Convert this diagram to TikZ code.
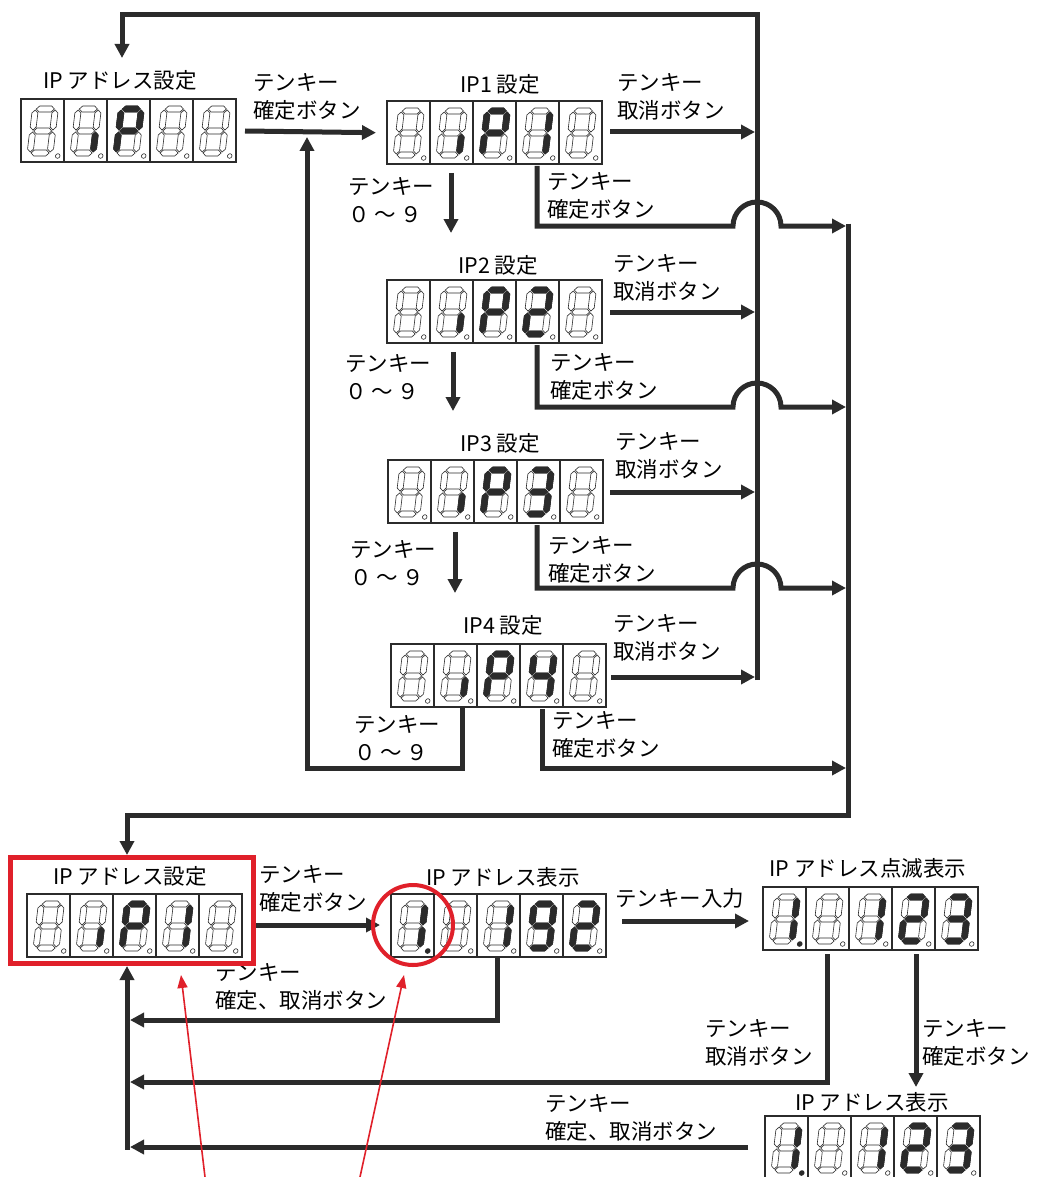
\documentclass[tikz,border=0pt]{standalone}
\usepackage{fontspec}
\setmainfont{Noto Sans CJK JP}
\usetikzlibrary{arrows.meta}
\definecolor{lk}{HTML}{2B2B2B}
\definecolor{rd}{HTML}{E0202A}
\newcommand\hsg[2]{(#1-9,#2) -- ++(3,3) -- ++(12,0) -- ++(3,-3) -- ++(-3,-3) -- ++(-12,0) -- cycle}
\newcommand\vsg[2]{(#1,#2-10) -- ++(3,3) -- ++(0,14) -- ++(-3,3) -- ++(-3,-3) -- ++(0,-14) -- cycle}
\def\dgparse#1#2#3#4#5#6#7#8{\def\sA{#1}\def\sB{#2}\def\sC{#3}\def\sD{#4}\def\sE{#5}\def\sF{#6}\def\sG{#7}\def\sH{#8}}
\newcommand\segdig[3]{%
\begin{scope}[shift={(#1,#2)},xslant=0.12,yscale=-1]
\expandafter\dgparse#3%
\path[segoff] \hsg{18}{53} \hsg{18}{31} \hsg{18}{9} \vsg{8}{42} \vsg{28}{42} \vsg{8}{20} \vsg{28}{20};
\ifnum\sA=1 \path[segon] \hsg{18}{53};\fi
\ifnum\sB=1 \path[segon] \vsg{28}{42};\fi
\ifnum\sC=1 \path[segon] \vsg{28}{20};\fi
\ifnum\sD=1 \path[segon] \hsg{18}{9};\fi
\ifnum\sE=1 \path[segon] \vsg{8}{20};\fi
\ifnum\sF=1 \path[segon] \vsg{8}{42};\fi
\ifnum\sG=1 \path[segon] \hsg{18}{31};\fi
\ifnum\sH=1 \fill[lk] (36,6) circle (2.8);\else \draw[line width=0.6pt,lk] (36,6) circle (2.3);\fi
\end{scope}}
\newcommand\disp[8]{%
\node[minimum width=215pt,minimum height=63pt,inner sep=0pt,anchor=north west] (#1) at (#2,#3) {};
\draw[line width=1.8pt,lk] (#2,#3) rectangle ++(215,63);
\foreach \k in {1,2,3,4} {\draw[line width=1.2pt,lk] ({#2+43*\k},#3) -- ++(0,63);}
\segdig{#2}{#3+63}{#4}\segdig{#2+43}{#3+63}{#5}\segdig{#2+86}{#3+63}{#6}\segdig{#2+129}{#3+63}{#7}\segdig{#2+172}{#3+63}{#8}}
\def\Bl{00000000}\def\Cc{00100000}\def\Pp{11001110}\def\One{01100000}\def\Two{11011010}
\def\Thr{11110010}\def\Fou{01100110}\def\OneD{01100001}\def\Nin{11110110}
\tikzset{
 segoff/.style={draw=lk,line width=0.6pt,fill=white},
 segon/.style={draw=lk,line width=0.6pt,fill=lk},
 ln/.style={draw=lk,line width=5pt},
 conn/.style={draw=lk,line width=5pt,-{Triangle[length=14pt,width=14pt]}},
 redarr/.style={draw=rd,line width=1.6pt,-{Triangle[length=13pt,width=10pt]}},
 lbl/.style={inner sep=0pt,align=left,anchor=west,font=\fontsize{21.5}{27.5}\selectfont},
 ttl/.style={inner sep=0pt,anchor=center,font=\fontsize{21.5}{27.5}\selectfont},
}
\begin{document}
\begin{tikzpicture}[x=1pt,y=-1pt]
\useasboundingbox[fill=white] (0,0) rectangle (1037,1177);
% ---------- displays ----------
\disp{D0}{21}{99}{\Bl}{\Cc}{\Pp}{\Bl}{\Bl}
\disp{D1}{387}{101}{\Bl}{\Cc}{\Pp}{\One}{\Bl}
\disp{D2}{387}{280}{\Bl}{\Cc}{\Pp}{\Two}{\Bl}
\disp{D3}{388}{460}{\Bl}{\Cc}{\Pp}{\Thr}{\Bl}
\disp{D4}{391}{644}{\Bl}{\Cc}{\Pp}{\Fou}{\Bl}
\disp{D5}{27}{894}{\Bl}{\Cc}{\Pp}{\One}{\Bl}
\disp{D6}{391}{894}{\OneD}{\Bl}{\One}{\Nin}{\Two}
\disp{D7}{763}{887}{\OneD}{\Bl}{\One}{\Two}{\Thr}
\disp{D8}{765}{1116}{\OneD}{\Bl}{\One}{\Two}{\Thr}
% ---------- labels ----------
\node[ttl] (t0) at (120,80) {IP アドレス設定};
\node[lbl] (l1) at (253,97) {テンキー\\確定ボタン};
\node[ttl] (t1) at (500,84) {IP1 設定};
\node[lbl] (c1) at (617,97) {テンキー\\取消ボタン};
\node[lbl] (k1) at (547,196) {テンキー\\確定ボタン};
\node[lbl] (n1) at (348,200) {テンキー\\０ ～ ９};
\node[ttl] (t2) at (498,265) {IP2 設定};
\node[lbl] (c2) at (613,278) {テンキー\\取消ボタン};
\node[lbl] (k2) at (550,377) {テンキー\\確定ボタン};
\node[lbl] (n2) at (345,377) {テンキー\\０ ～ ９};
\node[ttl] (t3) at (500,443) {IP3 設定};
\node[lbl] (c3) at (615,456) {テンキー\\取消ボタン};
\node[lbl] (k3) at (548,560) {テンキー\\確定ボタン};
\node[lbl] (n3) at (350,563) {テンキー\\０ ～ ９};
\node[ttl] (t4) at (503,625) {IP4 設定};
\node[lbl] (c4) at (613,638) {テンキー\\取消ボタン};
\node[lbl] (k4) at (552,735) {テンキー\\確定ボタン};
\node[lbl] (n4) at (354,738) {テンキー\\０ ～ ９};
\node[ttl] (t5) at (130,876) {IP アドレス設定};
\node[lbl] (k5) at (259,889) {テンキー\\確定ボタン};
\node[ttl] (t6) at (503,877) {IP アドレス表示};
\node[lbl] (i6) at (615,898) {テンキー入力};
\node[ttl] (t7) at (868,868) {IP アドレス点滅表示};
\node[lbl] (r1) at (215,987) {テンキー\\確定、取消ボタン};
\node[lbl] (r2) at (705,1043) {テンキー\\取消ボタン};
\node[lbl] (k7) at (922,1043) {テンキー\\確定ボタン};
\node[ttl] (t8) at (872,1102) {IP アドレス表示};
\node[lbl] (r3) at (545,1118) {テンキー\\確定、取消ボタン};
% ---------- coordinates ----------
\coordinate (vR) at (757,680);
\coordinate (topR) at (757,15);
\coordinate (topL) at (122,15);
\coordinate (busR) at (848,223.5);
\coordinate (busB) at (848,815);
\coordinate (busL) at (127,815);
% ---------- upper connectors ----------
\draw[conn] (vR) -- (topR) -- (topL) -- (122,58);
\draw[conn] (245,131) -- (D1.west -| 376,0) ;
\draw[conn] (D4.south -| 462,0) -- (462,768) -- (307,768) -- (307,137);
\draw[conn] (610,132) -- (755,132);
\draw[conn] (610,312) -- (755,312);
\draw[conn] (610,492) -- (755,492);
\draw[conn] (611,677) -- (755,677);
\draw[conn] (537,166) -- (537,226) -- (733,226) arc[start angle=180,end angle=360,radius=24] -- (846,226);
\draw[conn] (537,345) -- (537,407) -- (733,407) arc[start angle=180,end angle=360,radius=24] -- (846,407);
\draw[conn] (537,525) -- (537,588) -- (733,588) arc[start angle=180,end angle=360,radius=24] -- (846,588);
\draw[conn] (542,709) -- (542,768) -- (846,768);
\draw[conn] (451,173) -- (451,233);
\draw[conn] (453,352) -- (453,411);
\draw[conn] (455,532) -- (455,593);
\draw[conn] (busR) -- (busB) -- (busL) -- (127,855);
% ---------- lower connectors ----------
\draw[conn] (255,925) -- (380,925);
\draw[conn] (622,921) -- (749,921);
\draw[conn] (497,957) -- (497,1020) -- (130,1020);
\draw[conn] (827,954) -- (827,1082) -- (130,1082);
\draw[conn] (916,954) -- (916,1087);
\draw[conn] (748,1147) -- (130,1147);
\draw[conn] (127,1149.5) -- (127,966);
% ---------- red marks ----------
\draw[rd,line width=5pt] (10,857) rectangle (253,963);
\draw[rd,line width=4pt] (413,925) circle (40);
\draw[redarr] (205,1177) -- (181,975);
\draw[redarr] (360,1177) -- (404,975);
\end{tikzpicture}
\end{document}
